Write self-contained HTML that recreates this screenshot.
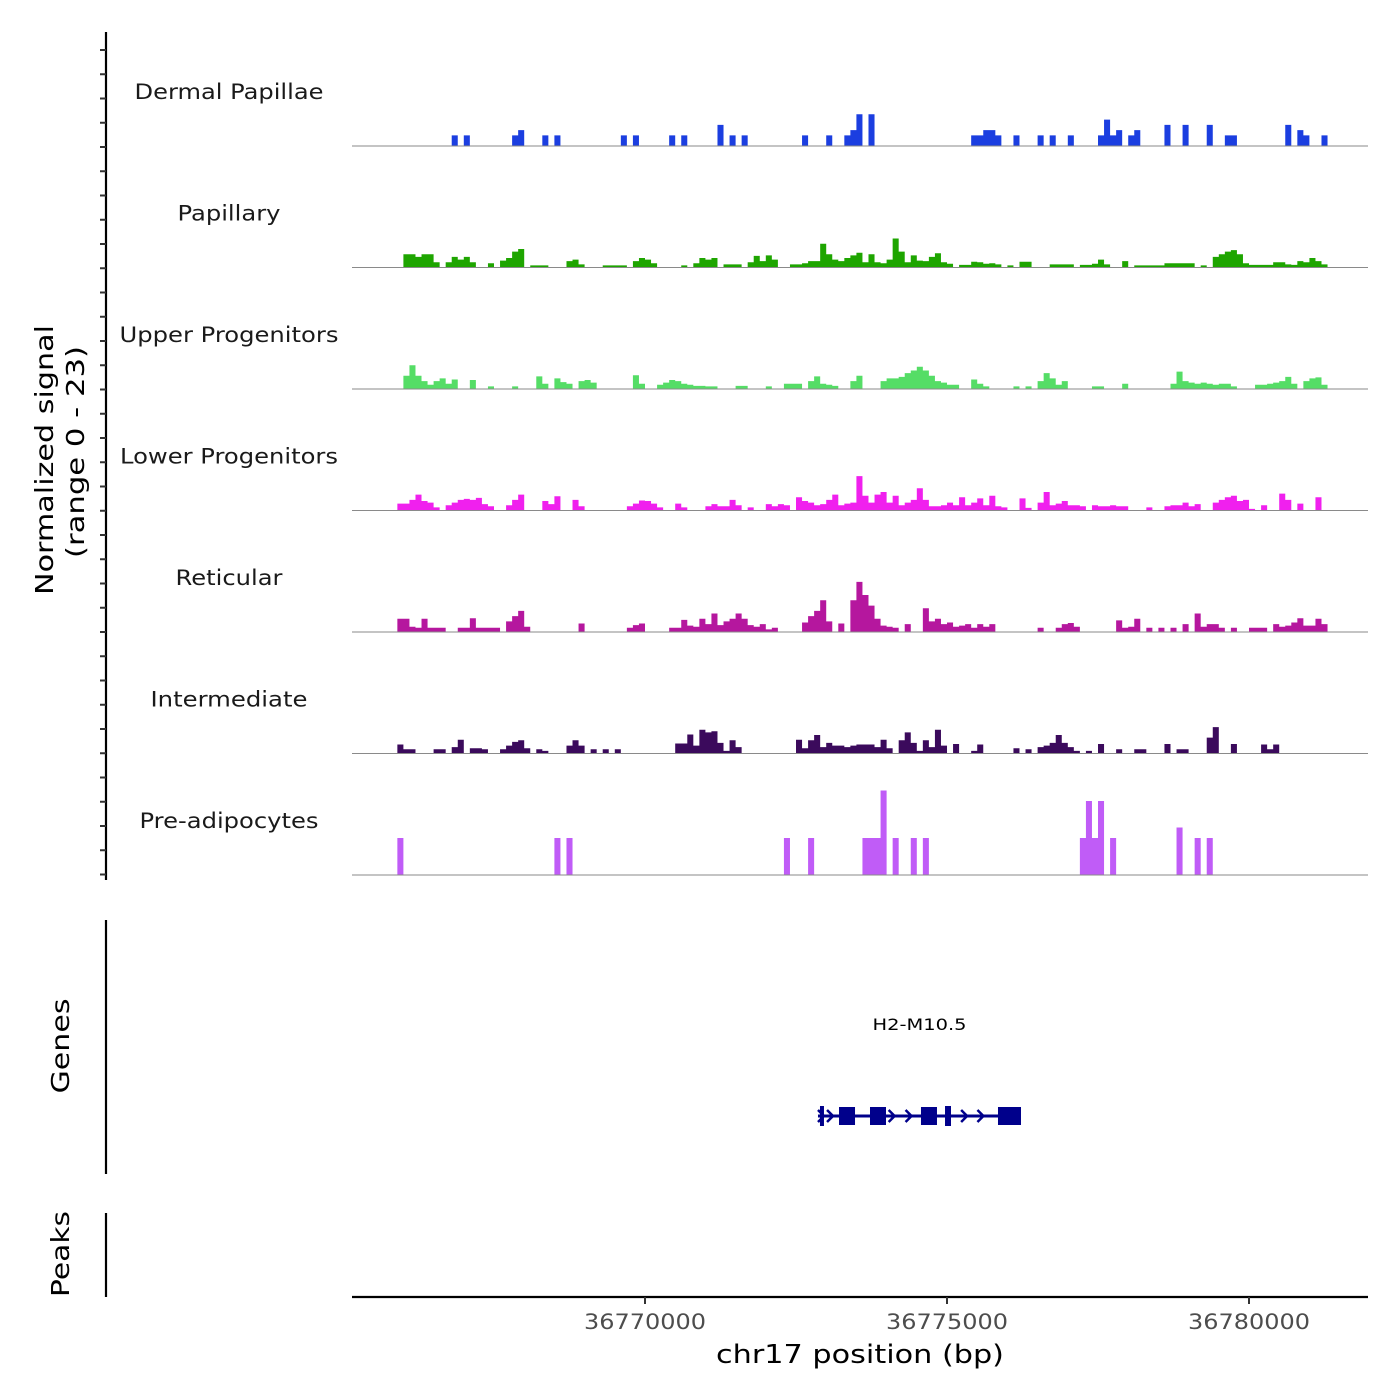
<!DOCTYPE html>
<html><head><meta charset="utf-8"><style>
html,body{margin:0;padding:0;background:#fff;}
svg{display:block;font-family:"DejaVu Sans","Liberation Sans",sans-serif;}
</style></head><body>
<svg id="chart" width="1400" height="1400" viewBox="0 0 1400 1400" xmlns="http://www.w3.org/2000/svg">
  <g id="tracks"></g>
  <g id="labels"></g>
  <line x1="106" y1="32" x2="106" y2="880" stroke="#000" stroke-width="2.2"/>
  <g id="yticks"></g>
  <text transform="translate(53,460) rotate(-90)" text-anchor="middle" font-size="25" textLength="270" lengthAdjust="spacingAndGlyphs" fill="#000">Normalized signal</text>
  <text transform="translate(84,452) rotate(-90)" text-anchor="middle" font-size="25" textLength="212" lengthAdjust="spacingAndGlyphs" fill="#000">(range 0 - 23)</text>
  <line x1="106" y1="920" x2="106" y2="1174" stroke="#000" stroke-width="2.2"/>
  <text transform="translate(69,1046) rotate(-90)" text-anchor="middle" font-size="25" textLength="95" lengthAdjust="spacingAndGlyphs" fill="#000">Genes</text>
  <line x1="106" y1="1213" x2="106" y2="1297" stroke="#000" stroke-width="2.2"/>
  <text transform="translate(69,1254) rotate(-90)" text-anchor="middle" font-size="25" textLength="86" lengthAdjust="spacingAndGlyphs" fill="#000">Peaks</text>
  <g id="gene"></g>
  <line x1="352" y1="1297" x2="1368" y2="1297" stroke="#000" stroke-width="2.2"/>
  <g id="xticks"></g>
  <text x="860" y="1363" text-anchor="middle" font-size="26" textLength="288" lengthAdjust="spacingAndGlyphs" fill="#000">chr17 position (bp)</text>
</svg>
<script>
// genomic window & bins
const regionStart = 36765149;
const regionEnd = 36781970;
const binStart = 36765800;
const binSize = 100;
const yMax = 23;
const trackNames = ["Dermal Papillae","Papillary","Upper Progenitors","Lower Progenitors","Reticular","Intermediate","Pre-adipocytes"];
const trackLabelWidths = [189, 103, 219, 218, 107, 157, 179];
const trackColors = ["#1b3ee0","#1ea500","#55dd66","#f020ee","#b5179e","#3b0a5c","#c05cf7"];
const xTickValues = [36770000, 36775000, 36780000];
const xTickLabels = ["36770000","36775000","36780000"];
// [bin index, signal] pairs
const dermal = [[10,2],[12,2],[20,2],[21,3],[25,2],[27,2],[38,2],[40,2],[46,2],[48,2],[54,4],[56,2],[58,2],[68,2],[72,2],[75,2],[76,3],[77,6],[79,6],[96,2],[97,2],[98,3],[99,3],[100,2],[103,2],[107,2],[109,2],[112,2],[117,2],[118,5],[119,2],[120,3],[122,2],[123,3],[128,4],[131,4],[135,4],[138,2],[139,2],[148,4],[150,3],[151,2],[154,2]];
const papillary = [[2,2.5],[3,2.5],[4,2],[5,2.5],[6,2.5],[7,1],[9,1],[10,2],[11,1.5],[12,2],[13,1],[16,0.8],[18,1.3],[19,1.8],[20,3],[21,3.5],[23,0.4],[24,0.4],[25,0.4],[29,1.2],[30,1.5],[31,0.6],[35,0.4],[36,0.4],[37,0.4],[38,0.4],[40,1.2],[41,1.8],[42,1.5],[43,0.8],[48,0.4],[50,0.8],[51,1.8],[52,1.5],[53,1.8],[55,0.6],[56,0.6],[57,0.6],[59,1],[60,2.2],[61,1.2],[62,2.3],[63,1.5],[66,0.6],[67,0.6],[68,0.8],[69,1.2],[70,1.2],[71,4.5],[72,2.5],[73,1.5],[74,1.2],[75,1.8],[76,2.3],[77,2.8],[78,1],[79,2.5],[80,1],[81,0.8],[82,1.5],[83,5.5],[84,3],[85,1],[86,2.3],[87,1.3],[88,1.2],[89,2],[90,2.7],[91,1],[92,0.7],[94,0.5],[95,0.5],[96,1.1],[97,1],[98,0.7],[99,0.8],[100,0.6],[102,0.4],[104,1.1],[105,1.1],[109,0.6],[110,0.6],[111,0.6],[112,0.6],[114,0.5],[115,0.5],[116,0.7],[117,1.5],[118,0.6],[121,1.2],[123,0.4],[124,0.4],[125,0.4],[126,0.4],[127,0.4],[128,0.8],[129,0.8],[130,0.8],[131,0.8],[132,0.8],[134,0.4],[136,2],[137,2.5],[138,3],[139,3.3],[140,2.5],[141,0.8],[142,0.5],[143,0.5],[144,0.5],[145,0.5],[146,1],[147,1],[148,0.6],[149,0.5],[150,1.2],[151,1],[152,1.8],[153,1.2],[154,0.6]];
const upperProg = [[2,2.5],[3,4.5],[4,2.5],[5,1.5],[6,0.8],[7,1.5],[8,2],[9,1],[10,1.8],[13,1.7],[16,0.5],[20,0.5],[24,2.4],[25,1],[27,2],[28,1.3],[29,1],[31,1.5],[32,1.7],[33,1.2],[40,2.6],[41,1],[44,0.8],[45,1.2],[46,1.7],[47,1.5],[48,1],[49,0.8],[50,0.6],[51,0.6],[52,0.5],[53,0.5],[57,0.6],[58,0.6],[62,0.5],[65,1],[66,1],[67,1],[69,1.5],[70,2.4],[71,1],[72,0.8],[73,0.6],[76,1.5],[77,2.5],[81,1.5],[82,2],[83,2],[84,2.3],[85,3],[86,3.5],[87,4.2],[88,3.5],[89,2.5],[90,1.5],[91,1.2],[92,0.8],[93,0.8],[96,1.8],[97,1],[98,0.5],[103,0.5],[105,0.5],[107,1.5],[108,3],[109,2],[110,0.8],[111,1.5],[116,0.5],[117,0.5],[121,1],[129,1],[130,3.3],[131,1.5],[132,1.2],[133,1],[134,1.2],[135,1],[136,0.8],[137,1],[138,1],[139,0.5],[143,0.8],[144,0.8],[145,1],[146,1.2],[147,1.5],[148,2.3],[149,1],[151,1.5],[152,2],[153,2.2],[154,0.8]];
const lowerProg = [[1,1.3],[2,1.3],[3,2],[4,3],[5,1.8],[6,1.5],[7,0.6],[9,1],[10,1.5],[11,2],[12,2.2],[13,2],[14,2.4],[15,1.2],[16,0.8],[19,1],[20,2],[21,3],[25,1.8],[26,1.2],[27,2.7],[30,2],[31,0.8],[39,0.8],[40,1.3],[41,1.9],[42,1.8],[43,1.3],[44,0.6],[47,1.3],[48,0.6],[52,0.8],[53,1.2],[54,0.8],[55,0.8],[56,2],[57,1],[59,0.6],[62,1.2],[63,0.8],[64,1.2],[65,1],[67,2.5],[68,1.8],[69,1.5],[70,1],[71,1.2],[72,2],[73,3],[74,1],[75,1.3],[76,1.5],[77,6.5],[78,2.8],[79,1.5],[80,3],[81,3.5],[82,1.5],[83,2.8],[84,1],[85,1.5],[86,2],[87,4.2],[88,2],[89,0.8],[90,0.8],[91,1],[92,1.5],[93,1],[94,2.5],[95,1],[96,1.5],[97,2.3],[98,1],[99,2.8],[100,0.8],[101,0.6],[104,2.3],[105,0.5],[107,1.5],[108,3.5],[109,1],[110,1.3],[111,1.8],[112,1],[113,1],[114,0.8],[116,1],[117,0.8],[118,0.8],[119,1],[120,0.8],[121,0.8],[125,0.6],[128,0.8],[129,1],[130,1],[131,1.5],[132,0.8],[133,1.2],[136,1.5],[137,2],[138,2.5],[139,2.8],[140,1.8],[141,2],[142,0.3],[144,1],[147,3.2],[148,2],[150,1.3],[153,2.5]];
const reticular = [[1,2.5],[2,2.5],[3,1],[4,0.8],[5,2.5],[6,0.8],[7,0.8],[8,0.8],[11,0.8],[12,0.8],[13,2.6],[14,0.8],[15,0.8],[16,0.8],[17,0.8],[19,2],[20,3],[21,4],[22,1],[31,1.6],[39,0.8],[40,1.3],[41,1.6],[46,0.8],[47,0.8],[48,2.3],[49,1.2],[50,1],[51,2.5],[52,1.5],[53,3.5],[54,1.3],[55,2],[56,2.5],[57,3.5],[58,2.5],[59,1.3],[60,1],[61,1.5],[62,0.5],[63,0.8],[68,1.8],[69,3],[70,4],[71,6],[72,2],[74,1.6],[76,6],[77,9.5],[78,7],[79,5],[80,2.5],[81,1.2],[82,1],[83,0.8],[85,1.5],[88,4.5],[89,2],[90,2.5],[91,1.5],[92,1.8],[93,1],[94,1.2],[95,1.5],[96,0.8],[97,1.5],[98,1],[99,1.5],[107,0.8],[110,0.8],[111,1.5],[112,1.7],[113,1],[120,2.2],[121,0.8],[122,1],[123,2.5],[125,0.8],[127,0.8],[129,0.8],[131,1.5],[133,3.5],[134,1],[135,1.5],[136,1.5],[137,0.8],[139,0.8],[142,0.8],[143,0.8],[144,0.8],[146,1.5],[147,1],[148,1.2],[149,1.8],[150,2.6],[151,1.2],[152,1.2],[153,2.5],[154,1.5]];
const intermediate = [[1,1.7],[2,0.8],[3,0.8],[7,0.8],[8,0.8],[10,1.2],[11,2.6],[13,1],[14,1],[15,0.8],[18,0.8],[19,1.5],[20,2.2],[21,2.5],[22,1],[24,0.8],[25,0.5],[29,1.5],[30,2.5],[31,1.5],[33,0.8],[35,0.8],[37,0.8],[47,1.9],[48,1.9],[49,3.6],[50,1.5],[51,4.5],[52,4],[53,4.2],[54,2],[55,0.5],[56,2.5],[57,1.2],[67,2.6],[68,1],[69,2.5],[70,3.5],[71,1.2],[72,2],[73,1.5],[74,1.5],[75,1.2],[76,1.5],[77,1.7],[78,1.7],[79,1.7],[80,1.2],[81,2.6],[82,1],[84,2.5],[85,4],[86,2],[87,0.5],[88,2.5],[89,1.2],[90,4.5],[91,1.5],[93,1.8],[96,0.5],[97,1.7],[103,1],[105,0.8],[107,1.2],[108,1.5],[109,2],[110,3.5],[111,2],[112,1.2],[113,0.5],[115,0.5],[117,1.8],[120,0.8],[123,0.8],[124,0.8],[128,1.8],[130,0.8],[131,0.8],[135,3],[136,5],[139,1.8],[144,1.7],[145,0.8],[146,1.7]];
const preadipocytes = [[1,7],[27,7],[29,7],[65,7],[69,7],[78,7],[79,7],[80,7],[81,16],[83,7],[86,7],[88,7],[114,7],[115,14],[116,7],[117,14],[119,7],[130,9],[133,7],[135,7]];
// gene model (bp)
const geneName = "H2-M10.5";
const geneStart = 36772864;
const geneEnd = 36776225;
const exonStarts = [36772897, 36773212, 36773725, 36774569, 36774967, 36775844];
const exonEnds   = [36772963, 36773477, 36773990, 36774834, 36775066, 36776225];
const exonTall   = [1, 0, 0, 0, 1, 0];
const arrowPositions = [36772930, 36773080, 36774100, 36774380, 36775300, 36775570];

const NS = "http://www.w3.org/2000/svg";
const X0 = 352, X1 = 1368;
function xScale(bp){ return X0 + (bp - regionStart) / (regionEnd - regionStart) * (X1 - X0); }
const trackTop0 = 24.5, trackH = 121.5;
function baseY(i){ return trackTop0 + (i + 1) * trackH; }
function yScale(i, v){ return baseY(i) - v / yMax * trackH; }
function mk(tag, attrs, parent){ const e = document.createElementNS(NS, tag); for (const k in attrs) e.setAttribute(k, attrs[k]); parent.appendChild(e); return e; }

const allTracks = [dermal, papillary, upperProg, lowerProg, reticular, intermediate, preadipocytes];
const tracksG = document.getElementById("tracks");
const labelsG = document.getElementById("labels");
allTracks.forEach(function(data, i){
  const sorted = data.slice().sort(function(a,b){return a[0]-b[0];});
  let d = "";
  let k = 0;
  while (k < sorted.length) {
    let j = k;
    while (j + 1 < sorted.length && sorted[j+1][0] === sorted[j][0] + 1) j++;
    const xs = xScale(binStart + sorted[k][0] * binSize);
    d += "M" + xs.toFixed(2) + "," + baseY(i).toFixed(2);
    for (let m = k; m <= j; m++) {
      const xa = xScale(binStart + sorted[m][0] * binSize);
      const xb = xScale(binStart + (sorted[m][0] + 1) * binSize);
      const y = yScale(i, sorted[m][1]).toFixed(2);
      d += "L" + xa.toFixed(2) + "," + y + "L" + xb.toFixed(2) + "," + y;
    }
    d += "L" + xScale(binStart + (sorted[j][0] + 1) * binSize).toFixed(2) + "," + baseY(i).toFixed(2) + "Z";
    k = j + 1;
  }
  const p = mk("path", {d: d, fill: trackColors[i], stroke: "none"}, tracksG);
  
  
  const bl = mk("line", {x1: X0, x2: X1, y1: baseY(i), y2: baseY(i), stroke: "#8a8a8a", "stroke-width": 1}, tracksG);
  
  
  const t = mk("text", {x: 229, y: baseY(i) - 47, "text-anchor": "middle", "font-size": 21, textLength: trackLabelWidths[i], lengthAdjust: "spacingAndGlyphs", fill: "#1a1a1a"}, labelsG);
  t.textContent = trackNames[i];
  
  
});

const ytG = document.getElementById("yticks");
for (let y = 50; y <= 880; y += 24.25) {
  const tk = mk("line", {x1: 100, x2: 106, y1: y, y2: y, stroke: "#333", "stroke-width": 2}, ytG);
  
  
}

const xtG = document.getElementById("xticks");
xTickValues.forEach(function(v, i){
  const x = xScale(v);
  const tk = mk("line", {x1: x, x2: x, y1: 1297, y2: 1304, stroke: "#333", "stroke-width": 2}, xtG);
  
  
  const tl = mk("text", {x: x, y: 1329, "text-anchor": "middle", "font-size": 21, textLength: 122, lengthAdjust: "spacingAndGlyphs", fill: "#4d4d4d"}, xtG);
  tl.textContent = xTickLabels[i];
  
  
});

const gG = document.getElementById("gene");
const gy = 1116;
const gl = mk("line", {x1: xScale(geneStart), x2: xScale(geneEnd), y1: gy, y2: gy, stroke: "#00008b", "stroke-width": 3}, gG);


arrowPositions.forEach(function(p){
  const x = xScale(p);
  const a = mk("path", {d: "M" + (x-4) + "," + (gy-6) + "L" + (x+2) + "," + gy + "L" + (x-4) + "," + (gy+6), fill: "none", stroke: "#00008b", "stroke-width": 2.5}, gG);
  
  
});
exonStarts.forEach(function(s, i){
  const x0 = xScale(s), x1 = xScale(exonEnds[i]);
  const h = exonTall[i] ? 20 : 18;
  const r = mk("rect", {x: x0, y: gy - h/2, width: Math.max(2, x1 - x0), height: h, fill: "#00008b"}, gG);
  
  
});
const gt = mk("text", {x: xScale((geneStart + geneEnd) / 2), y: 1030, "text-anchor": "middle", "font-size": 16, textLength: 94, lengthAdjust: "spacingAndGlyphs", fill: "#000"}, gG);
gt.textContent = geneName;


</script>
</body></html>
